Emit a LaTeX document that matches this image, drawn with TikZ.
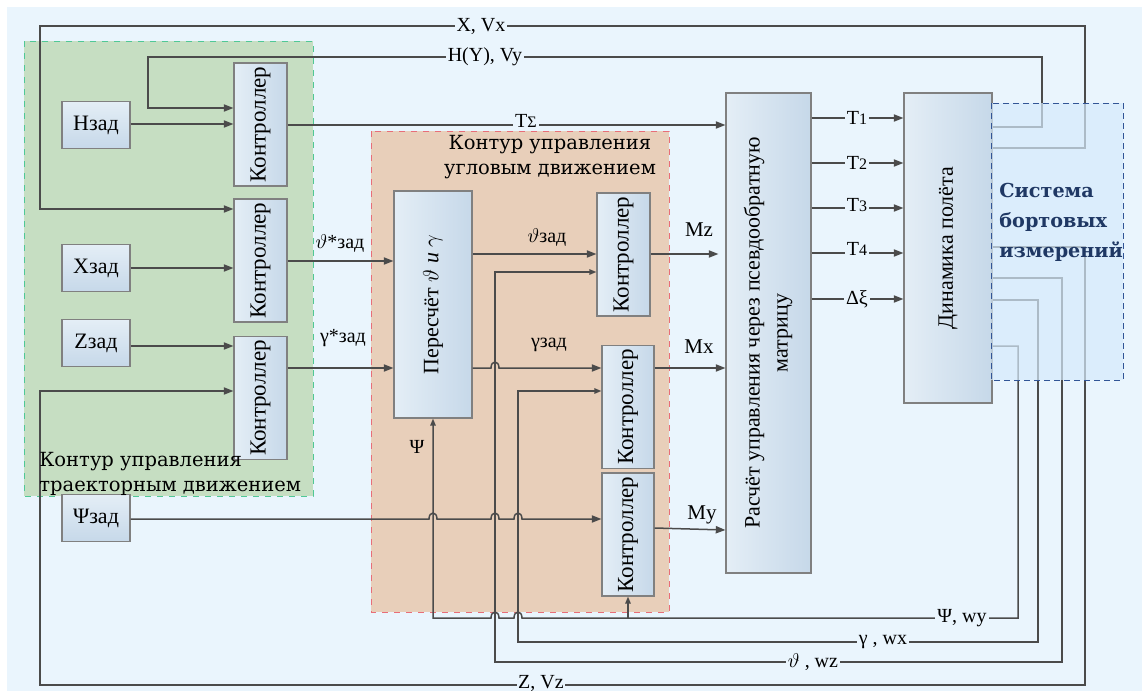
\documentclass[tikz,border=0pt]{standalone}
\usepackage{fontspec}
\setmainfont{Liberation Serif}
\newfontfamily\cambria{DejaVu Serif}
\usetikzlibrary{arrows.meta,calc}
\definecolor{bgc}{RGB}{234,245,253}
\definecolor{greenc}{RGB}{198,222,194}
\definecolor{greenb}{RGB}{80,200,150}
\definecolor{pinkc}{RGB}{232,207,186}
\definecolor{pinkb}{RGB}{232,110,120}
\definecolor{boxl}{RGB}{228,238,246}
\definecolor{boxr}{RGB}{198,216,233}
\definecolor{boxb}{RGB}{128,128,128}
\definecolor{linec}{RGB}{75,75,75}
\definecolor{sysc}{RGB}{214,235,252}
\definecolor{sysb}{RGB}{50,85,150}
\definecolor{syst}{RGB}{31,56,100}
\begin{document}
\begin{tikzpicture}[x=0.5pt,y=-0.5pt,
  hbox/.style={draw=boxb,line width=0.6pt,inner sep=0pt,left color=boxl,right color=boxr,font=\fontsize{11}{13}\selectfont},
  vbox/.style={draw=boxb,line width=0.6pt,inner sep=0pt,top color=boxl,bottom color=boxr,minimum width=34pt,minimum height=23.5pt,font=\fontsize{11}{13}\selectfont},
  ctrl/.style={hbox,minimum width=26.5pt,minimum height=61.5pt,font=\fontsize{11.5}{13}\selectfont},
  ln/.style={draw=linec,line width=0.75pt},
  arr/.style={ln,-{Triangle[length=4.8pt,width=3.6pt]}},
  sarr/.style={ln,-{Triangle[length=3.5pt,width=2.7pt]}},
  lab/.style={inner sep=1pt,font=\fontsize{10}{12}\selectfont},
  labf/.style={lab,fill=bgc},
]
\useasboundingbox (0,0) rectangle (1142,691);
\fill[white] (0,0) rectangle (1142,691);
\fill[bgc] (7,7) rectangle (1142,691);
% regions
\fill[greenc] (24,41) rectangle (313,496);
\draw[greenb,dashed,line width=0.5pt] (24,41) rectangle (313,496);
\fill[pinkc] (371,131) rectangle (669,612);
\draw[pinkb,dashed,line width=0.5pt] (371,131) rectangle (669,612);

% nodes
\node[vbox] (hz) at (96,125) {Нзад};
\node[vbox] (xz) at (96,268) {Xзад};
\node[vbox] (zz) at (96,343) {Zзад};
\node[vbox] (pz) at (96,518) {Ψзад};
\node[ctrl] (c1) at (260.5,124.5) {\rotatebox{90}{Контроллер}};
\node[ctrl] (c2) at (260.5,260.5) {\rotatebox{90}{Контроллер}};
\node[ctrl] (c3) at (260.5,398) {\rotatebox{90}{Контроллер}};
\node[hbox,minimum width=39pt,minimum height=113.5pt] (pr) at (433,304.5) {\rotatebox{90}{Пересчёт $\vartheta$ \textit{и} $\gamma$}};
\node[ctrl] (cz) at (623.5,254.5) {\rotatebox{90}{Контроллер}};
\node[ctrl,minimum width=26pt] (cx) at (628,407) {\rotatebox{90}{Контроллер}};
\node[ctrl,minimum width=26pt] (cy) at (628,534.5) {\rotatebox{90}{Контроллер}};
\node[hbox,minimum width=42.5pt,minimum height=240pt] (rs) at (768.5,333) {\rotatebox{90}{\begin{tabular}{@{}c@{}}Расчёт управления через псевдообратную\\[1pt]матрицу\end{tabular}}};
\node[hbox,minimum width=44pt,minimum height=155pt] (dn) at (948,248) {\rotatebox{90}{Динамика полёта}};

% connectors
\draw[arr] (dn.east |- 0,148) -| (1085,26) -| (40,209) -- (c2.west |- 0,209);
\draw[arr] (dn.east |- 0,127) -| (1042,57) -| (148,108) -- (c1.west |- 0,108);
\draw[arr] (hz.east |- 0,124) -- (c1.west |- 0,124);
\draw[arr] (c1.east |- 0,125) -- (rs.west |- 0,125);
\draw[arr] (xz.east |- 0,268) -- (c2.west |- 0,268);
\draw[arr] (c2.east |- 0,261) -- (pr.west |- 0,261);
\draw[arr] (zz.east |- 0,346) -- (c3.west |- 0,346);
\draw[arr] (dn.east |- 0,247) -| (1085,685) -| (40,391) -- (c3.west |- 0,391);
\draw[arr] (c3.east |- 0,368) -- (pr.west |- 0,368);
\draw[arr] (pr.east |- 0,254) -- (cz.west |- 0,254);
\draw[arr] (pr.east |- 0,368) -- (491,368) .. controls (491,360) and (499,360) .. (499,368) -- (cx.west |- 0,368);
\draw[sarr] (dn.east |- 0,278) -| (1062,662) -| (495,272) -- (cz.west |- 0,272);
\draw[sarr] (dn.east |- 0,300) -| (1038,642) -| (518,391) -- (cx.west |- 0,391);
\draw[sarr] (dn.east |- 0,346) -| (1018,618) -- (522,618) .. controls (522,610) and (514,610) .. (514,618) -- (499,618) .. controls (499,610) and (491,610) .. (491,618) -- (433,618) -- (pr.south);
\coordinate (br) at (628,618);
\draw[sarr] (br) -- (cy.south);
\draw[arr] (pz.east |- 0,519) -- (429,519) .. controls (429,511) and (437,511) .. (437,519) -- (491,519) .. controls (491,511) and (499,511) .. (499,519) -- (514,519) .. controls (514,511) and (522,511) .. (522,519) -- (cy.west |- 0,519);
\draw[arr,shorten >=3.5pt] (cz.east |- 0,254) -- (rs.west |- 0,254);
\draw[arr] (cx.east |- 0,368) -- (rs.west |- 0,368);
\draw[arr] (cy.east |- 0,528) -- (rs.west |- 0,530);
\foreach \y in {118,163,208,253,299} \draw[arr] (rs.east |- 0,\y) -- (dn.west |- 0,\y);

% system box
\fill[sysc,fill opacity=0.7] (991,103) rectangle (1123,380);
\draw[sysb,densely dashed,line width=0.5pt] (991,103) rectangle (1123,380);
\node[anchor=west,align=left,text=syst,font=\cambria\bfseries\fontsize{9.6}{15}\selectfont,inner sep=0pt] at (999,222) {Система\\бортовых\\измерений};

% labels
\node[labf] at (481,26) {X, Vx};
\node[labf] at (485,57) {H(Y), Vy};
\node[labf] at (526,121) {T{\fontsize{8}{9}\selectfont Σ}};
\node[lab] at (340,243) {$\vartheta$*зад};
\node[lab] at (343,338) {γ*зад};
\node[lab] at (547,237) {$\vartheta$зад};
\node[lab] at (549,345) {γзад};
\node[lab] at (417,447) {Ψ};
\node[lab,font=\fontsize{10.5}{12}\selectfont] at (699,230) {Mz};
\node[lab,font=\fontsize{10.5}{12}\selectfont] at (699,347) {Mx};
\node[lab,font=\fontsize{10.5}{12}\selectfont] at (702,515) {My};
\node[labf] at (857,118) {T{\fontsize{8}{9}\selectfont 1}};
\node[labf] at (857,163) {T{\fontsize{8}{9}\selectfont 2}};
\node[labf] at (857,205) {T{\fontsize{8}{9}\selectfont 3}};
\node[labf] at (857,249) {T{\fontsize{8}{9}\selectfont 4}};
\node[labf] at (857,299) {Δξ};
\node[labf] at (962,618) {Ψ, wy};
\node[labf] at (883,642) {γ , wx};
\node[labf] at (813,662) {$\vartheta$ , wz};
\node[labf,inner sep=0.5pt] at (541,683) {Z, Vz};
\node[anchor=west,align=left,font=\cambria\fontsize{9.75}{12.5}\selectfont,inner sep=0pt] at (39,474) {Контур управления\\траекторным движением};
\node[align=center,font=\cambria\fontsize{9.75}{12.5}\selectfont,inner sep=0pt] at (550,157) {Контур управления\\угловым движением};
\end{tikzpicture}
\end{document}
